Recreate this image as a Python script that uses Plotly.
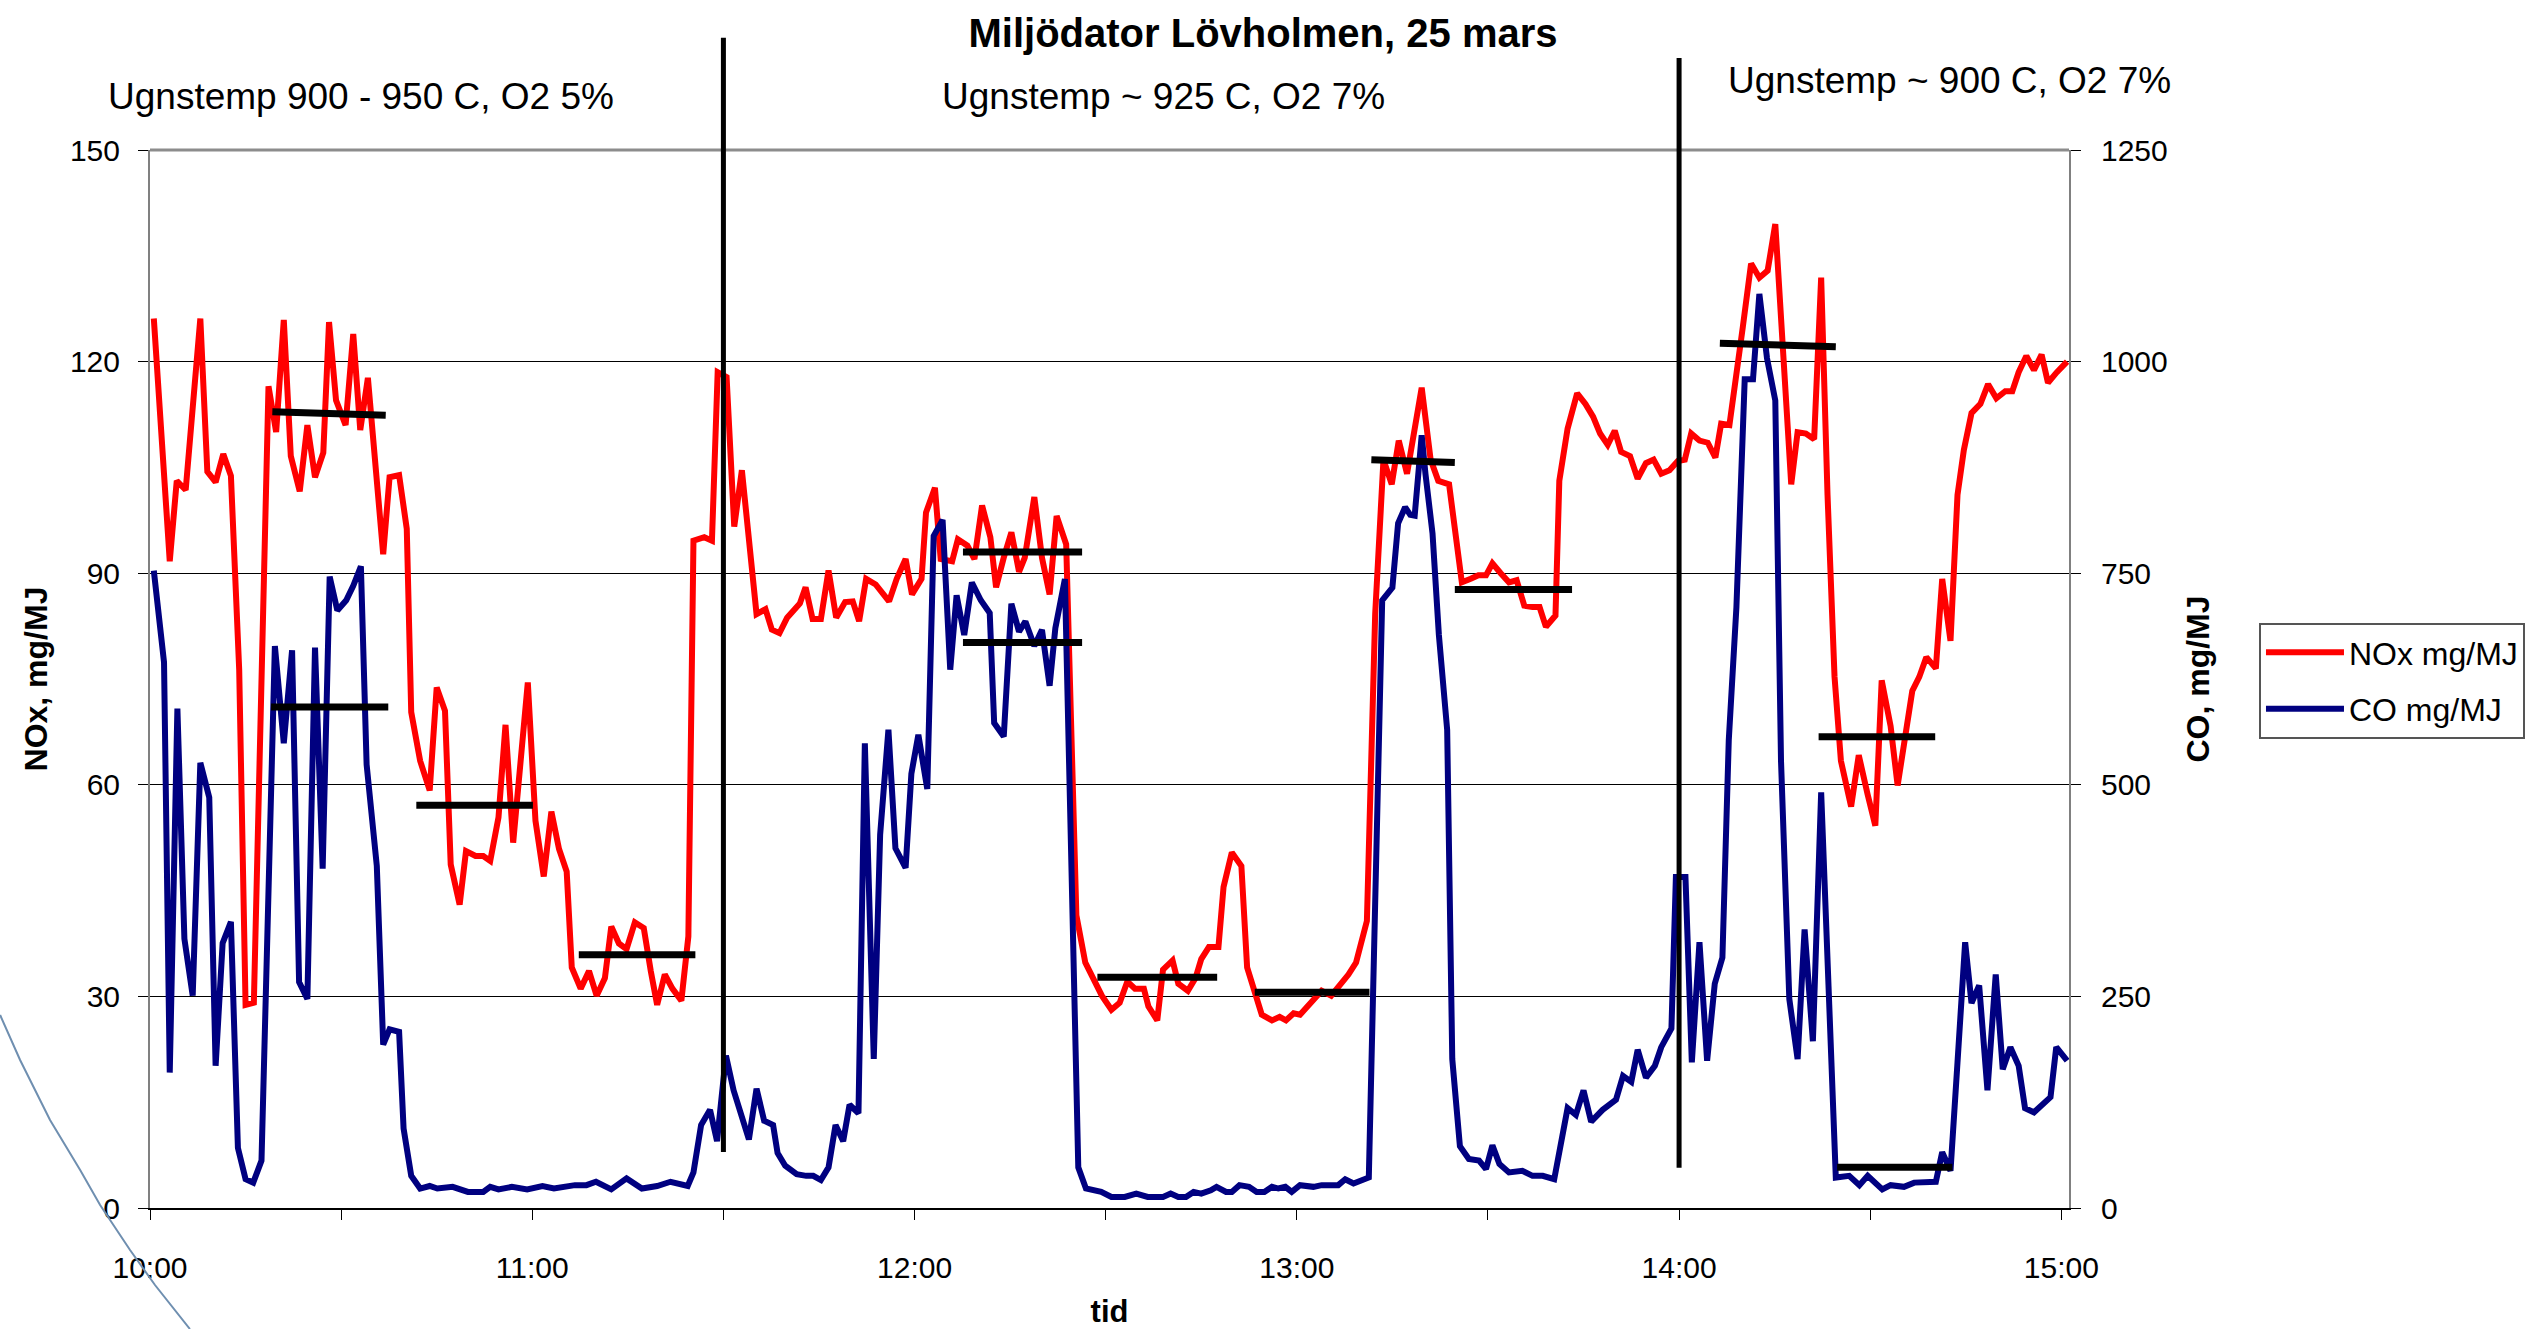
import plotly.graph_objects as go

# ---------------- data (minutes after 10:00) ----------------
hour_labels = ["10:00", "11:00", "12:00", "13:00", "14:00", "15:00"]

nox_t = [0.6, 3.1, 4.2, 5.6, 7.9, 9.0, 10.3, 11.5, 12.7, 14.0, 15.0, 16.3, 18.6, 19.8, 21.0, 22.1, 23.5,
         24.7, 25.9, 27.2, 28.1, 29.2, 30.7, 31.9, 33.0, 34.2, 36.6, 37.6, 39.1, 40.3, 41.0, 42.4, 43.9,
         45.0, 46.3, 47.2, 48.6, 49.6, 51.1, 52.3, 53.4, 54.7, 55.8, 57.0, 59.3, 60.5, 61.8, 63.0, 64.2,
         65.4, 66.2, 67.6, 68.9, 70.1, 71.4, 72.4, 73.6, 74.8, 76.1, 77.5, 78.6, 79.6, 80.8, 82.0, 83.4,
         84.5, 85.3, 87.0, 88.2, 89.1, 90.5, 91.7, 92.9, 94.0, 95.2, 96.6, 97.6, 98.8, 100.0, 102.0, 102.9,
         104.0, 105.3, 106.5, 107.7, 109.1, 110.3, 111.3, 112.4, 113.9, 116.0, 117.2, 118.6, 119.6, 121.1,
         121.8, 123.2, 124.1, 125.9, 126.8, 128.3, 129.4, 130.6, 131.9, 132.8, 134.0, 135.2, 136.4, 137.3,
         138.8, 140.0, 141.2, 142.3, 143.8, 145.4, 146.8, 149.4, 150.9, 152.2, 153.4, 154.6, 156.0, 156.7,
         158.1, 159.0, 160.5, 161.4, 162.9, 164.1, 165.0, 166.2, 167.7, 168.5, 169.8, 171.3, 172.2, 173.3,
         174.5, 176.1, 177.3, 178.3, 179.5, 180.5, 181.8, 183.9, 185.4, 186.6, 188.1, 189.3, 191.0, 192.3,
         193.6, 194.9, 196.0, 197.3, 199.6, 201.0, 202.2, 203.9, 204.9, 205.9, 207.3, 208.5, 209.7, 210.7,
         212.0, 213.3, 214.5, 215.7, 217.0, 218.1, 219.1, 220.6, 221.2, 222.5, 224.0, 225.3, 226.5, 227.6,
         228.8, 229.9, 230.9, 232.3, 233.5, 234.8, 236.0, 237.2, 238.5, 239.8, 240.9, 241.9, 243.2, 244.5,
         245.7, 246.6, 247.9, 249.1, 250.0, 251.3, 252.6, 253.9, 255.1, 257.6, 258.6, 259.9, 261.2, 262.3,
         263.3, 264.4, 265.4, 267.0, 268.2, 269.6, 270.8, 271.8, 273.2, 274.3, 275.5, 276.6, 277.7, 278.8,
         280.3, 281.3, 282.6, 283.7, 284.7, 285.9, 287.3, 288.5, 289.8, 291.2, 292.3, 293.3, 294.5, 295.7,
         296.9, 297.9, 299.3, 300.9]
nox_v = [126.1, 91.7, 103.1, 101.8, 126.1, 104.4, 102.9, 106.9, 103.8, 76.3, 28.8, 29.1, 116.5, 110.0, 125.9,
         106.6, 101.6, 111.0, 103.6, 107.1, 125.6, 114.5, 111.0, 123.9, 110.3, 117.7, 92.7, 103.6, 103.9, 96.3,
         70.3, 63.4, 59.2, 73.8, 70.5, 48.7, 43.0, 50.6, 49.9, 49.9, 49.2, 55.4, 68.5, 51.8, 74.5, 54.9, 47.0,
         56.2, 50.9, 47.7, 34.1, 31.1, 33.6, 30.1, 32.6, 39.9, 37.5, 36.7, 40.5, 39.7, 33.6, 28.8, 33.1, 31.1,
         29.4, 38.5, 94.6, 95.1, 94.6, 118.5, 117.8, 96.6, 104.6, 95.6, 84.2, 84.9, 82.0, 81.5, 83.7, 85.7,
         88.0, 83.5, 83.5, 90.4, 83.7, 85.9, 86.0, 83.2, 89.2, 88.4, 86.0, 89.2, 92.0, 87.0, 89.2, 98.6, 102.1,
         92.0, 91.7, 94.8, 93.9, 92.0, 99.6, 95.1, 88.0, 92.2, 95.8, 90.2, 92.2, 100.8, 92.2, 87.0, 98.1, 94.1,
         41.5, 34.8, 30.1, 28.1, 29.1, 32.1, 31.1, 31.1, 28.6, 26.6, 33.8, 35.1, 31.8, 30.8, 32.6, 35.3, 37.0,
         37.0, 45.5, 50.4, 48.5, 34.1, 31.1, 27.4, 26.6, 27.1, 26.6, 27.6, 27.4, 28.6, 30.8, 30.1, 31.4, 33.1,
         34.8, 40.7, 84.2, 106.1, 102.6, 108.8, 104.1, 116.3, 106.1, 103.1, 102.6, 95.1, 88.7, 89.2, 89.7,
         89.7, 91.4, 90.0, 88.7, 89.0, 85.4, 85.2, 85.2, 82.4, 84.0, 103.1, 110.5, 115.5, 114.0, 112.2, 109.8,
         108.2, 110.2, 107.2, 106.6, 103.4, 105.6, 106.1, 104.1, 104.6, 105.9, 106.1, 109.8, 108.8, 108.5,
         106.4, 111.2, 111.0, 118.5, 124.9, 133.9, 131.9, 132.9, 139.5, 102.6, 110.0, 109.8, 109.0, 131.9,
         101.1, 75.3, 63.4, 56.9, 64.2, 58.6, 54.2, 74.8, 68.3, 59.9, 67.3, 73.3, 75.3, 78.1, 76.5, 89.2, 80.4,
         101.1, 107.5, 112.7, 114.0, 116.8, 114.8, 115.8, 115.8, 118.5, 120.8, 118.8, 121.0, 117.0, 118.5,
         120.0]

co_t = [0.6, 2.2, 3.1, 4.3, 5.4, 6.7, 7.9, 9.3, 10.3, 11.4, 12.7, 13.8, 15.0, 16.2, 17.5, 19.0, 19.6, 21.0,
        22.3, 23.4, 24.7, 25.9, 27.1, 28.2, 29.4, 30.8, 31.9, 33.1, 34.0, 35.6, 36.6, 37.6, 39.1, 39.8, 41.0,
        42.4, 43.9, 45.1, 47.5, 49.9, 52.3, 53.4, 54.7, 56.8, 59.2, 61.6, 63.4, 66.7, 68.5, 70.0, 72.4, 74.8,
        77.2, 79.6, 81.7, 84.4, 85.3, 86.5, 87.9, 89.0, 90.4, 91.6, 92.8, 94.0, 95.2, 96.4, 97.8, 98.5, 99.7,
        101.5, 103.0, 104.1, 105.3, 106.5, 107.6, 108.8, 109.8, 111.2, 112.2, 113.6, 114.6, 115.9, 117.0,
        118.6, 119.5, 120.6, 122.0, 123.0, 124.4, 125.6, 126.6, 127.8, 129.0, 130.4, 131.8, 132.5, 134.0,
        135.2, 136.4, 137.4, 138.8, 140.0, 141.2, 142.1, 143.6, 145.7, 146.9, 149.3, 150.9, 153.0, 154.8,
        156.6, 159.0, 160.2, 161.4, 162.6, 163.8, 165.0, 166.5, 167.4, 168.9, 169.8, 171.0, 172.5, 173.7,
        174.9, 176.1, 177.1, 178.2, 179.2, 180.5, 182.6, 183.9, 186.5, 187.6, 188.9, 191.3, 193.4, 195.0,
        195.9, 197.0, 197.8, 198.5, 199.6, 200.2, 201.3, 202.3, 203.6, 204.4, 205.6, 207.0, 208.6, 209.7,
        210.7, 211.8, 213.3, 215.4, 217.0, 218.6, 220.4, 222.5, 223.8, 225.0, 226.2, 228.0, 230.1, 231.2,
        232.5, 233.5, 234.8, 236.2, 237.2, 238.8, 239.5, 241.0, 242.0, 243.2, 244.4, 245.6, 246.8, 247.8,
        249.0, 250.3, 251.6, 252.6, 253.8, 255.1, 256.0, 257.3, 258.6, 259.7, 261.0, 262.3, 263.6, 264.6,
        266.7, 268.3, 269.6, 271.9, 273.2, 275.3, 276.9, 278.7, 280.3, 281.3, 282.6, 283.7, 284.9, 285.9,
        287.1, 288.4, 289.7, 290.8, 292.0, 293.3, 294.3, 295.7, 297.0, 298.3, 299.2, 300.9]
co_v = [753, 645, 160, 590, 318, 251, 526, 485, 168, 313, 338, 71, 34, 30, 56, 453, 664, 549, 659, 267, 247,
        662, 401, 746, 706, 718, 735, 758, 524, 404, 193, 211, 208, 94, 38, 23, 26, 23, 25, 19, 19, 25, 22, 25,
        22, 26, 23, 27, 27, 31, 22, 35, 23, 26, 31, 26, 42, 98, 116, 79, 180, 139, 110, 81, 141, 103, 98, 65,
        50, 40, 38, 38, 33, 48, 98, 79, 122, 112, 549, 176, 441, 565, 425, 402, 513, 559, 495, 794, 813, 636,
        724, 677, 739, 718, 703, 573, 557, 714, 681, 693, 664, 683, 617, 685, 743, 48, 23, 19, 13, 13, 17, 13,
        13, 17, 13, 13, 19, 17, 21, 25, 19, 19, 27, 25, 19, 19, 25, 23, 25, 19, 27, 25, 27, 27, 34, 29, 36,
        718, 733, 809, 828, 819, 818, 913, 867, 797, 677, 565, 176, 73, 58, 56, 46, 74, 52, 42, 44, 38, 38,
        34, 118, 110, 139, 102, 116, 128, 156, 149, 187, 154, 168, 190, 212, 391, 391, 172, 314, 174, 265,
        296, 553, 710, 979, 979, 1080, 1004, 954, 528, 247, 176, 329, 197, 491, 205, 36, 38, 27, 38, 22, 27,
        25, 30, 31, 31, 66, 44, 172, 314, 242, 263, 139, 276, 164, 190, 168, 118, 113, 122, 131, 190, 174]

# period averages (black bars)
nox_seg_start = [19.2, 41.8, 67.3, 127.6, 148.7, 173.4, 191.7, 204.8, 246.4, 261.9]
nox_seg_end = [37.0, 60.1, 85.6, 146.3, 167.5, 191.4, 204.8, 223.2, 264.6, 280.2]
nox_seg_v0 = [112.9, 57.1, 35.9, 93.0, 32.7, 30.6, 106.1, 87.7, 122.6, 66.8]
nox_seg_v1 = [112.4, 57.1, 35.9, 93.0, 32.7, 30.6, 105.7, 87.7, 122.1, 66.8]
co_seg_start = [19.0, 127.6, 264.8]
co_seg_end = [37.4, 146.3, 282.9]
co_seg_v = [592, 668, 48]

divider_times = [90, 240]
period_labels = ["Ugnstemp 900 - 950 C, O2 5%", "Ugnstemp ~ 925 C, O2 7%", "Ugnstemp ~ 900 C, O2 7%"]

FONT = "Liberation Sans, Arial, sans-serif"

fig = go.Figure()
fig.add_trace(go.Scatter(x=nox_t, y=nox_v, mode="lines", name="NOx mg/MJ",
                         line=dict(color="#FF0000", width=6), yaxis="y", legendgroup="a"))
fig.add_trace(go.Scatter(x=co_t, y=co_v, mode="lines", name="CO mg/MJ",
                         line=dict(color="#000080", width=6), yaxis="y2", legendgroup="b"))

cx, cy = [], []
for s, e, v in zip(co_seg_start, co_seg_end, co_seg_v):
    cx += [s, e, None]
    cy += [v, v, None]
fig.add_trace(go.Scatter(x=cx, y=cy, mode="lines", line=dict(color="black", width=7),
                         yaxis="y2", showlegend=False, hoverinfo="skip"))
nx, ny = [], []
for s, e, v0, v1 in zip(nox_seg_start, nox_seg_end, nox_seg_v0, nox_seg_v1):
    nx += [s, e, None]
    ny += [v0, v1, None]
fig.add_trace(go.Scatter(x=nx, y=ny, mode="lines", line=dict(color="black", width=7),
                         yaxis="y3", showlegend=False, hoverinfo="skip"))

tickvals = list(range(0, 301, 30))
ticktext = [hour_labels[i // 2] if i % 2 == 0 else "" for i in range(len(tickvals))]

shapes = [
    dict(type="line", xref="paper", yref="paper", x0=0, x1=1, y0=1, y1=1,
         line=dict(color="#8c8c8c", width=3), layer="below"),
    dict(type="line", xref="x", yref="paper", x0=divider_times[0], x1=divider_times[0], y0=0.053, y1=1.106,
         line=dict(color="black", width=5)),
    dict(type="line", xref="x", yref="paper", x0=divider_times[1], x1=divider_times[1], y0=0.038, y1=1.087,
         line=dict(color="black", width=5)),
    # stray scan mark in the lower-left corner
    dict(type="path", xref="paper", yref="paper",
         path="M -0.0781,0.1824 L -0.0677,0.1399 L -0.0521,0.0832 L -0.0364,0.0359 L -0.0260,0.0028 "
              "L -0.0104,-0.0397 L 0.0026,-0.0728 L 0.0208,-0.1144",
         line=dict(color="#6f8fb0", width=2)),
]

annotations = [
    dict(text=period_labels[0], x=0.1098, y=1.051, xref="paper", yref="paper", showarrow=False,
         font=dict(size=37, color="black", family=FONT), xanchor="center", yanchor="middle"),
    dict(text=period_labels[1], x=0.5279, y=1.051, xref="paper", yref="paper", showarrow=False,
         font=dict(size=37, color="black", family=FONT), xanchor="center", yanchor="middle"),
    dict(text=period_labels[2], x=0.9375, y=1.066, xref="paper", yref="paper", showarrow=False,
         font=dict(size=37, color="black", family=FONT), xanchor="center", yanchor="middle"),
]

fig.update_layout(
    width=2537, height=1329, autosize=False,
    margin=dict(l=150, r=466, t=150, b=121, pad=0),
    paper_bgcolor="white", plot_bgcolor="white",
    font=dict(family=FONT, color="black", size=30),
    title=dict(text="<b>Miljödator Lövholmen, 25 mars</b>", x=0.58, xref="paper", y=0.975, yref="container",
               xanchor="center", yanchor="middle", font=dict(size=40, family=FONT, color="black")),
    xaxis=dict(range=[0, 301.2], tickvals=tickvals, ticktext=ticktext, ticks="outside", ticklen=10,
               tickwidth=1, tickcolor="black", showgrid=False, zeroline=False, showline=True,
               linecolor="black", linewidth=2, tickfont=dict(size=30), ticklabelstandoff=22,
               automargin=False,
               title=dict(text="<b>tid</b>", font=dict(size=31), standoff=40)),
    yaxis=dict(range=[0, 150], tickvals=[0, 30, 60, 90, 120, 150], ticks="outside", ticklen=10,
               tickcolor="black", showgrid=True, gridcolor="#000000", gridwidth=1, zeroline=False,
               showline=True, linecolor="#808080", linewidth=2, tickfont=dict(size=30),
               ticklabelstandoff=12, automargin=False,
               title=dict(text="<b>NOx, mg/MJ</b>", font=dict(size=32), standoff=13)),
    yaxis2=dict(range=[0, 1250], tickvals=[0, 250, 500, 750, 1000, 1250], overlaying="y", side="right",
                ticks="outside", ticklen=10, tickcolor="black", showgrid=False, zeroline=False,
                showline=True, linecolor="#808080", linewidth=2, tickfont=dict(size=30),
                ticklabelstandoff=14, automargin=False,
                title=dict(text="<b>CO, mg/MJ</b>", font=dict(size=32), standoff=20)),
    yaxis3=dict(range=[0, 150], overlaying="y", visible=False),
    legend=dict(x=1.099, y=0.553, xanchor="left", yanchor="top", bgcolor="white",
                bordercolor="#555555", borderwidth=2, font=dict(size=32), tracegroupgap=12,
                itemwidth=78),
    shapes=shapes,
    annotations=annotations,
)

fig.write_html("out.html")
